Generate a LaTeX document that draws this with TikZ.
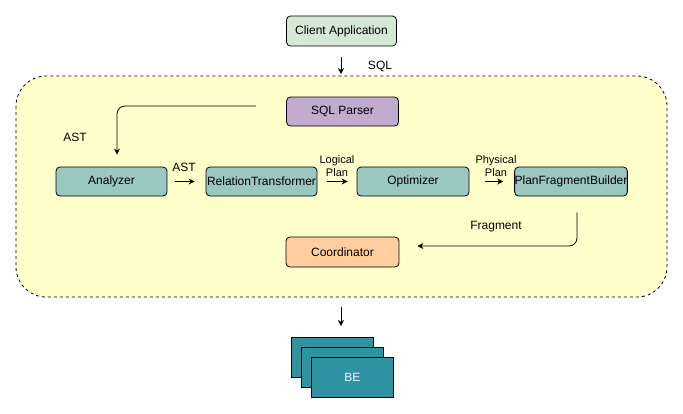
\documentclass[tikz,border=0pt]{standalone}
\usepackage{fontspec}
\setmainfont{Liberation Sans}
\usetikzlibrary{arrows.meta,calc}
\definecolor{greenfill}{HTML}{D5E8D4}
\definecolor{purplefill}{HTML}{C3ABD0}
\definecolor{tealfill}{HTML}{9AC7BF}
\definecolor{orangefill}{HTML}{FFCE9F}
\definecolor{yellowfill}{HTML}{FFFFCC}
\definecolor{befill}{HTML}{3193A1}
\tikzset{
  box/.style={draw=black, line width=0.8pt, rounded corners=4pt, minimum width=111pt, minimum height=29pt, inner sep=0pt, font=\fontsize{12}{14}\selectfont},
  lbl/.style={inner sep=0pt, font=\fontsize{12}{14}\selectfont, align=center},
  arr/.style={draw=black, line width=0.8pt, -{Stealth[length=6pt,width=6pt]}},
  berect/.style={draw=black, line width=0.8pt, fill=befill},
}
\begin{document}
\begin{tikzpicture}[x=1pt,y=-1pt]
\useasboundingbox (0,0) rectangle (683,413);
% container
\draw[dashed, line width=0.8pt, fill=yellowfill, rounded corners=30pt] (16,76) rectangle (667,297);
\coordinate (ctop) at (341,76);
\coordinate (cbot) at (341,297);

\node[box, fill=greenfill, minimum width=110pt, minimum height=30pt] (client) at (341.5,31) {Client Application};
\node[box, fill=purplefill, minimum width=112pt] (parser) at (342.5,111.5) {SQL Parser};
\node[box, fill=tealfill] (analyzer) at (111.5,181.5) {Analyzer};
\node[box, fill=tealfill] (rt) at (261.5,181.5) {RelationTransformer};
\node[box, fill=tealfill, minimum width=112pt] (opt) at (413,181.5) {Optimizer};
\node[box, fill=tealfill, minimum width=112pt] (pfb) at (571,181.5) {PlanFragmentBuilder};
\node[box, fill=orangefill, minimum width=113pt, minimum height=30pt] (coord) at (342.5,252) {Coordinator};

% BE stack
\draw[berect] (291,337) rectangle (373,377);
\draw[berect] (301,347) rectangle (383,387);
\node[berect, minimum width=82pt, minimum height=40pt, inner sep=0pt, anchor=north west, font=\fontsize{12}{14}\selectfont, text=white!92!cyan] (be) at (311,357) {BE};
\coordinate (betop) at (341,337);

% connectors
\draw[arr, shorten <=11pt, shorten >=2pt] (client.south -| ctop) -- (ctop);
\node[lbl] (sql) at (380,66) {SQL};

\draw[arr, rounded corners=8pt] ($(parser.west)+(-30,-5.5)$) -| ($(analyzer.north)+(5.5,-12)$);
\node[lbl] (ast1) at (75,137) {AST};

\draw[arr, shorten <=8pt, shorten >=11pt] (analyzer.east) -- (rt.west);
\node[lbl] (ast2) at (184,167) {AST};

\draw[arr, shorten <=10pt, shorten >=9pt] (rt.east) -- (opt.west);
\node[lbl, font=\fontsize{11}{13}\selectfont] (lp) at (337,166) {Logical\\Plan};

\draw[arr, shorten <=16pt, shorten >=11pt] (opt.east) -- (pfb.west);
\node[lbl, font=\fontsize{11}{13}\selectfont] (pp) at (496,166) {Physical\\Plan};

\draw[arr, rounded corners=8pt, shorten >=18pt] ($(pfb.south)+(6,16)$) |- (coord.east |- 0,246);
\node[lbl] (frag) at (496,227) {Fragment};

\draw[arr, shorten <=10pt, shorten >=11pt] (cbot) -- (betop);
\end{tikzpicture}
\end{document}
